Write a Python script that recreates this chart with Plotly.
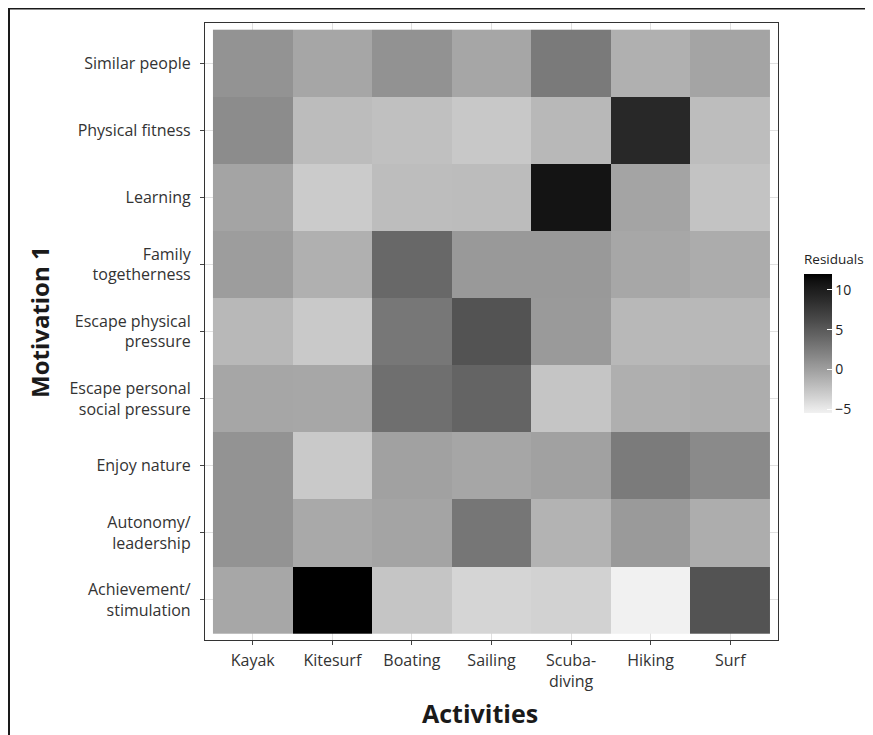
import plotly.graph_objects as go

activities = ["Kayak", "Kitesurf", "Boating", "Sailing", "Scuba-<br>diving", "Hiking", "Surf"]
motivations = [
    "Similar people",
    "Physical fitness",
    "Learning",
    "Family<br>togetherness",
    "Escape physical<br>pressure",
    "Escape personal<br>social pressure",
    "Enjoy nature",
    "Autonomy/<br>leadership",
    "Achievement/<br>stimulation",
]

# residuals, rows = motivations (top to bottom), cols = activities
similar_people   = [0.8, -0.5, 0.9, -0.5, 2.6, -1.2, -0.4]
physical_fitness = [1.3, -2.0, -2.3, -2.8, -1.7, 9.0, -2.1]
learning         = [-0.4, -3.0, -2.1, -2.0, 10.8, -0.4, -2.5]
family           = [0.1, -1.2, 3.9, 0.4, 0.4, -0.6, -0.9]
escape_physical  = [-1.7, -2.9, 2.8, 5.5, 0.3, -1.7, -1.7]
escape_personal  = [-0.5, -0.6, 3.4, 4.2, -2.6, -1.1, -1.0]
enjoy_nature     = [0.8, -2.9, -0.2, -0.5, -0.2, 2.5, 1.4]
autonomy         = [0.8, -0.7, -0.4, 2.9, -1.4, 0.3, -1.0]
achievement      = [-0.6, 12.0, -2.6, -3.7, -3.5, -5.5, 5.5]

z = [similar_people, physical_fitness, learning, family, escape_physical,
     escape_personal, enjoy_nature, autonomy, achievement]

colorbar_ticks = [-5, 0, 5, 10]


# grey gradient interpolated in Lab lightness (light grey -> black)
def lab_grey(L):
    fy = (L + 16) / 116
    Y = fy ** 3 if fy ** 3 > 0.008856 else L / 903.3
    c = 12.92 * Y if Y <= 0.0031308 else 1.055 * Y ** (1 / 2.4) - 0.055
    g = max(0, min(255, round(c * 255)))
    return f"rgb({g},{g},{g})"


L_low = 95.3
colorscale = [[i / 20, lab_grey(L_low * (1 - i / 20))] for i in range(21)]

# plot area in figure pixels
ML, MT, PW, PH = 197, 15, 573, 617


def px_x(p):
    return (p - ML) / PW


def px_y(p):
    return (MT + PH - p) / PH


fig = go.Figure(
    go.Heatmap(
        z=z,
        x=activities,
        y=motivations,
        colorscale=colorscale,
        zmin=min(min(r) for r in z),
        zmax=max(max(r) for r in z),
        colorbar=dict(
            title=dict(text="Residuals", side="top",
                       font=dict(family="Open Sans", size=13.5, color="#222")),
            tickvals=colorbar_ticks,
            ticks="inside",
            ticklen=5,
            tickcolor="white",
            tickfont=dict(family="Open Sans", size=14, color="#222"),
            thickness=28,
            lenmode="pixels",
            len=162,
            x=px_x(796),
            xanchor="left",
            xpad=0,
            y=px_y(324),
            yanchor="middle",
            ypad=0,
            outlinewidth=0,
        ),
        hovertemplate="%{x}<br>%{y}<br>%{z}<extra></extra>",
    )
)

fig.update_layout(
    width=873,
    height=735,
    autosize=False,
    margin=dict(l=ML, r=873 - ML - PW, t=MT, b=735 - MT - PH),
    paper_bgcolor="white",
    plot_bgcolor="white",
    font=dict(family="Open Sans", color="#333"),
    shapes=[
        dict(type="rect", xref="paper", yref="paper",
             x0=px_x(1), x1=px_x(900),
             y0=px_y(731), y1=px_y(0.5),
             line=dict(color="#1a1a1a", width=2), layer="below"),
    ],
    annotations=[
        dict(text="<b>Activities</b>", xref="paper", yref="paper",
             x=px_x(472), y=px_y(705), xanchor="center", yanchor="middle",
             showarrow=False,
             font=dict(family="Open Sans", size=25, color="#1a1a1a")),
        dict(text="<b>Motivation 1</b>", xref="paper", yref="paper",
             x=px_x(31), y=px_y(314), xanchor="center", yanchor="middle",
             textangle=-90, showarrow=False,
             font=dict(family="Open Sans", size=24, color="#1a1a1a")),
    ],
)

axis_common = dict(
    showgrid=True, gridcolor="#e0e0e0", gridwidth=1,
    ticks="outside", ticklen=4, tickcolor="#444",
    tickfont=dict(family="Open Sans", size=16, color="#333"),
    showline=True, linecolor="#333", linewidth=1.2, mirror=True,
    zeroline=False,
)
fig.update_xaxes(range=[-0.6, 6.6], ticklabelstandoff=2, **axis_common)
fig.update_yaxes(range=[8.6, -0.6], ticklabelstandoff=6, **axis_common)

fig.write_html("out.html")
